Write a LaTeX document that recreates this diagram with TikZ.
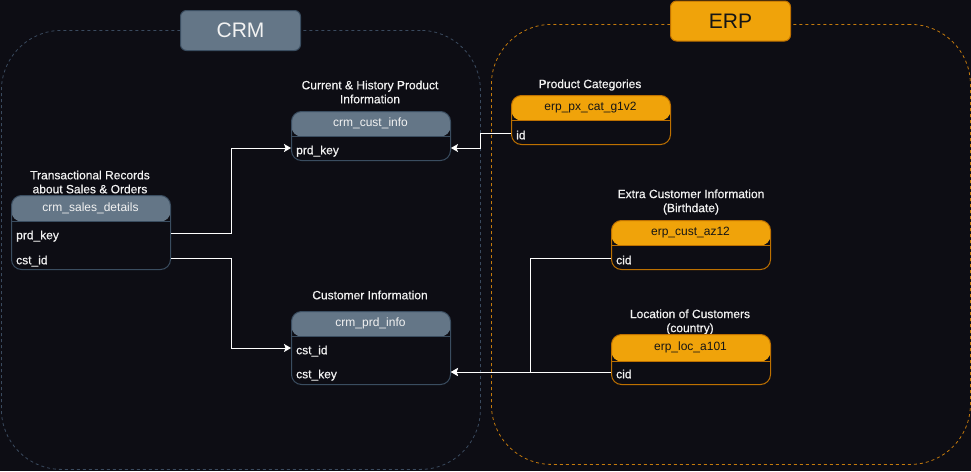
\documentclass[tikz,border=0pt]{standalone}
\usepackage{fontspec}
\setmainfont{Liberation Sans}
\newfontfamily\heavyish[FakeBold=0.4]{Liberation Sans}
\usetikzlibrary{arrows.meta}
\definecolor{bgc}{HTML}{0D0D14}
\definecolor{slatefill}{HTML}{647687}
\definecolor{slateedge}{HTML}{3A4D60}
\definecolor{crmdash}{HTML}{3A4A5E}
\definecolor{orangefill}{HTML}{F0A30A}
\definecolor{orangeedge}{HTML}{BD7000}
\definecolor{erpdash}{HTML}{C47A0C}
\definecolor{txt}{HTML}{F2F2F2}
\definecolor{darktxt}{HTML}{151515}
\tikzset{
  cont/.style={rounded corners=60pt, dashed, dash pattern=on 3pt off 3pt, line width=0.8pt, anchor=north west, inner sep=0pt},
  label/.style={rounded corners=6pt, line width=1pt, minimum width=120pt, minimum height=40pt, anchor=north west, inner sep=0pt, font=\fontsize{21}{24}\selectfont},
  tbl/.style={rounded corners=10pt, line width=1pt, minimum width=159pt, anchor=north west, inner sep=0pt},
  slatetbl/.style={tbl, draw=slateedge, fill=bgc, path picture={
      \fill[slatefill] (path picture bounding box.north west) rectangle ([yshift=-#1]path picture bounding box.north east);
      \draw[slateedge, line width=1pt] ([yshift=-#1]path picture bounding box.north west) -- ([yshift=-#1]path picture bounding box.north east);}},
  orangetbl/.style={tbl, draw=orangeedge, fill=bgc, path picture={
      \fill[orangefill] (path picture bounding box.north west) rectangle ([yshift=-#1]path picture bounding box.north east);
      \draw[orangeedge, line width=1pt] ([yshift=-#1]path picture bounding box.north west) -- ([yshift=-#1]path picture bounding box.north east);}},
  head/.style={font=\fontsize{12}{14}\selectfont, inner sep=0pt},
  rowtxt/.style={font=\heavyish\fontsize{12}{14}\selectfont, text=txt, anchor=west, inner sep=0pt, text height=12.5pt, text depth=0pt},
  ttl/.style={font=\heavyish\fontsize{12}{14}\selectfont, text=txt, align=center, inner sep=0pt},
  conn/.style={draw=white, line width=1pt, -{Stealth[length=7pt,width=8pt,inset=1.5pt]}},
}
\begin{document}
\begin{tikzpicture}[x=1pt,y=-1pt]
\fill[bgc] (0,0) rectangle (971,471);
\useasboundingbox (0,0) rectangle (971,471);

% containers
\node[cont, draw=crmdash, minimum width=479pt, minimum height=439pt] (crm) at (1,30) {};
\node[cont, draw=erpdash, minimum width=479pt, minimum height=440pt] (erp) at (491,24) {};
\node[label, fill=slatefill, draw=slateedge, text=txt] (crmlabel) at (180,10) {CRM};
\node[label, fill=orangefill, draw=orangeedge, text=darktxt] (erplabel) at (670,0.5) {ERP};

% titles
\node[ttl] (t1) at (370,92) {Current \& History Product\\Information};
\node[ttl] (t2) at (90,182) {Transactional Records\\about Sales \& Orders};
\node[ttl] (t3) at (370,295) {Customer Information};
\node[ttl] (t4) at (590,85) {Product Categories};
\node[ttl] (t5) at (691,202) {Extra Customer Information\\(Birthdate)};
\node[ttl] (t6) at (690,322) {Location of Customers\\(country)};

% tables
\node[slatetbl=25pt, minimum height=49pt] (cust) at (291,111) {};
\node[head, text=txt] (custh) at (370.5,123.5) {crm\_cust\_info};
\node[rowtxt] (custprd) at (296,148) {prd\_key};

\node[slatetbl=26pt, minimum height=74pt] (sales) at (11,195) {};
\node[head, text=txt] (salesh) at (90.5,208) {crm\_sales\_details};
\node[rowtxt] (salesprd) at (16,233) {prd\_key};
\node[rowtxt] (salescst) at (16,258) {cst\_id};

\node[slatetbl=25pt, minimum height=73pt] (prd) at (291,311) {};
\node[head, text=txt] (prdh) at (370.5,323.5) {crm\_prd\_info};
\node[rowtxt] (prdcst) at (296,348) {cst\_id};
\node[rowtxt] (prdkey) at (296,372) {cst\_key};

\node[orangetbl=25pt, minimum height=49pt] (pxcat) at (511,95) {};
\node[head, text=darktxt] (pxcath) at (590.5,107.5) {erp\_px\_cat\_g1v2};
\node[rowtxt] (pxid) at (516,133) {id};

\node[orangetbl=25pt, minimum height=49pt] (az) at (611,220) {};
\node[head, text=darktxt] (azh) at (690.5,232.5) {erp\_cust\_az12};
\node[rowtxt] (azcid) at (616,258) {cid};

\node[orangetbl=27pt, minimum height=50pt] (loc) at (611,334) {};
\node[head, text=darktxt] (loch) at (690.5,347.5) {erp\_loc\_a101};
\node[rowtxt] (loccid) at (616,372) {cid};

% connectors
\draw[conn] (sales.east |- salesprd) -- ++(60,0) |- (cust.west |- custprd);
\draw[conn] (sales.east |- salescst) -- ++(60,0) |- (prd.west |- prdcst);
\draw[conn] (pxcat.west |- pxid) -- ++(-31,0) |- (cust.east |- custprd);
\draw[conn] (az.west |- azcid) -- ++(-81,0) |- (prd.east |- prdkey);
\draw[conn] (loc.west |- loccid) -- (prd.east |- prdkey);
\end{tikzpicture}
\end{document}
